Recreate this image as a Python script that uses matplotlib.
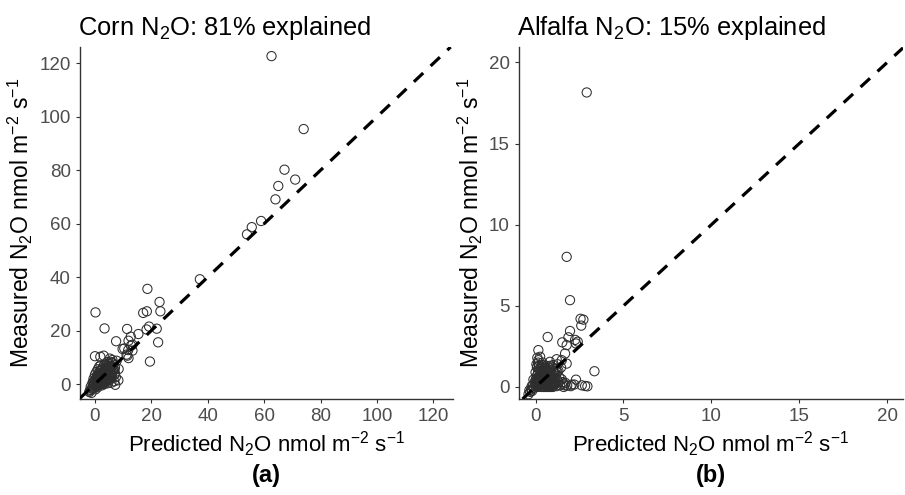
import numpy as np
import matplotlib.pyplot as plt

plt.rcParams['font.family'] = ['Liberation Sans', 'DejaVu Sans']
plt.rcParams['mathtext.default'] = 'regular'

# Corn: predicted vs measured N2O (nmol m-2 s-1)
corn_pred = [62.6, 74.0, 67.2, 71.0, 65.0, 64.0, 58.9, 55.6, 53.9, 37.2,
             0.2, 3.4, 11.4, 18.6, 22.9, 23.2, 17.1, 18.4, 19.2, 18.3,
             21.9, 22.4, 19.5, 15.4, 12.7, 11.9, 13.3, 10.4, 11.8, 11.9,
             11.2, 7.5, 0.0, 3.1, 1.9, 7.2, 8.4, -1.2, 9.8, 7.7,
             7.1, 7.1, 8.3, 12.8, 13.3, 11.5,
             -2.0, -1.5, -1.0, -0.8, -0.5, -0.3, 0.0, 0.2, 0.3, 0.5,
             0.6, 0.8, 1.0, 1.0, 1.2, 1.3, 1.5, 1.6, 1.8, 2.0,
             2.0, 2.2, 2.4, 2.5, 2.7, 2.8, 3.0, 3.0, 3.2, 3.4,
             3.5, 3.6, 3.8, 4.0, 4.0, 4.2, 4.4, 4.5, 4.6, 4.8,
             5.0, 5.0, 5.2, 5.4, 5.5, 5.6, 5.8, 6.0, 6.0, 6.2,
             6.4, 6.6, 6.8, 7.0, 0.0, 0.5, 1.0, 1.5, -0.5, 2.0,
             0.2, 1.0, 2.5, -1.5, 0.8, 1.8, 2.6, 3.3, 4.3, 5.3,
             -0.2, 0.4, 1.4, 2.3, 3.1, 3.9, 4.7, 5.7, 6.5, 0.7,
             -1.8, -1.1, -0.6, 0.1, 0.9, 1.7, 2.1, 2.9, 3.7, 4.1,
             4.9, 5.1, 5.9, 6.3, 6.9, 1.1, 2.4, 3.5, 4.4, 5.6,
             -0.9, 0.6, 1.9, 3.0, 4.2, 5.3, 6.1, 7.4, 2.8, 1.3]
corn_meas = [122.7, 95.4, 80.2, 76.5, 74.1, 69.1, 61.0, 58.7, 56.0, 39.2,
             26.8, 20.8, 20.6, 35.6, 30.7, 27.2, 26.6, 27.2, 21.5, 20.4,
             20.7, 15.6, 8.4, 18.7, 17.7, 16.2, 14.7, 13.3, 12.7, 9.7,
             11.0, 16.0, 10.4, 10.6, 10.2, -0.3, 5.6, -3.3, 13.1, 8.7,
             6.2, 4.0, 1.4, 14.4, 12.5, 10.6,
             -3.0, -2.2, -1.6, -1.0, -0.5, 0.2, -0.8, 0.5, 1.0, -0.3,
             1.5, 0.3, 2.0, 0.8, -0.2, 2.6, 1.2, 0.4, 3.0, 1.8,
             0.0, 3.5, 2.4, 1.0, 4.0, 0.5, 3.0, 1.8, 4.6, 0.0,
             2.5, 5.2, 3.6, 1.2, 6.0, 4.3, 2.0, 6.8, 0.3, 5.0,
             3.0, 7.5, 1.5, 5.8, 8.3, 4.0, 0.5, 6.5, 2.5, 9.0,
             4.8, 7.2, 1.0, 3.5, 3.5, 4.5, 5.5, 6.5, 2.0, 7.0,
             -2.0, -1.2, -0.5, -1.0, 2.8, 4.8, 6.0, 7.2, 8.2, 9.5,
             -1.5, 1.2, 0.5, 1.5, 2.2, 0.8, 1.8, 3.2, 5.5, -0.8,
             -2.5, -1.8, 0.8, 1.8, 3.3, 2.2, 5.2, 4.3, 2.8, 7.0,
             6.2, 2.2, 3.8, 7.8, 5.2, 0.0, 1.3, 0.8, 3.1, 2.0,
             0.4, 2.4, 1.0, 5.8, 5.0, 6.8, 8.0, 2.6, 0.2, 3.9]

# Alfalfa: predicted vs measured N2O
alf_pred = [2.91, 1.77, 1.96, 2.56, 2.72, 2.60, 0.69, 1.96, 1.87, 1.52,
            2.25, 2.30, 2.40, 1.77, 0.16, 0.26, 1.68, 3.35, 1.58, 2.06,
            2.30, 2.63, 2.82, 2.95, 1.30, 1.01, 1.11, 1.49, 0.82, 1.20,
            1.49, 1.77, 0.16, 0.35,
            -0.40, -0.30, -0.25, -0.20, -0.15, -0.10, -0.05, 0.00, 0.02, 0.05,
            0.08, 0.10, 0.12, 0.15, 0.18, 0.20, 0.22, 0.25, 0.28, 0.30,
            0.32, 0.35, 0.38, 0.40, 0.42, 0.45, 0.48, 0.50, 0.52, 0.55,
            0.58, 0.60, 0.62, 0.65, 0.68, 0.70, 0.72, 0.75, 0.78, 0.80,
            0.82, 0.85, 0.88, 0.90, 0.92, 0.95, 0.98, 1.00, 1.05, 1.10,
            1.15, 1.20, 1.25, 1.30, 0.05, 0.10, 0.20, 0.30, 0.40, 0.50,
            0.60, 0.70, 0.80, 0.90, 1.00, 1.10, 1.20, 1.40, 1.60, 1.80,
            0.00, 0.08, 0.15, 0.25, 0.35, 0.55, 0.65, 0.85, 1.35, 1.70,
            2.00, 2.20, 0.45, 0.75, 0.95, 0.02, 0.12, 0.60,
            -0.35, -0.22, -0.12, 0.03, 0.14, 0.24, 0.33, 0.44, 0.53, 0.63,
            0.73, 0.83, 0.93, 1.03, 1.13, 1.23, 0.07, 0.19, 0.29, 0.39,
            0.49, 0.59, 0.69, 0.79, 0.89, 0.99, 1.09, 1.45, 1.55, 1.65,
            0.10, 0.27, 0.43, 0.57, 0.71, 0.87, 1.02, 1.18, 0.36, 0.52]
alf_meas = [18.15, 8.02, 5.35, 4.20, 4.15, 3.78, 3.08, 3.45, 3.06, 2.75,
            2.90, 2.68, 2.79, 2.58, 2.27, 1.86, 2.06, 0.97, 0.20, 0.14,
            0.45, 0.10, 0.06, 0.04, 0.31, 0.73, 0.51, 0.47, 1.55, 1.71,
            1.65, 1.44, 1.65, 1.34,
            -0.45, -0.30, -0.15, -0.25, 0.10, -0.05, 0.30, 0.05, 0.50, 0.15,
            0.70, 0.00, 0.35, 0.90, 0.20, 0.55, 1.10, 0.10, 0.40, 0.75,
            1.20, 0.00, 0.60, 0.30, 0.95, 0.15, 0.80, 0.45, 1.05, 0.25,
            0.65, 1.15, 0.05, 0.85, 0.40, 1.25, 0.20, 0.95, 0.55, 1.30,
            0.10, 0.70, 1.05, 0.35, 1.20, 0.00, 0.60, 1.35, 0.90, 0.25,
            1.10, 0.50, 1.40, 1.00, 1.40, 1.80, 1.30, 1.00, 1.50, 0.00,
            0.05, 0.00, 0.10, 0.05, 0.02, 0.15, 0.05, 0.10, 0.00, 0.08,
            0.90, 1.20, 1.50, 0.65, 0.85, 1.25, 0.30, 0.00, 0.60, 0.25,
            0.05, 0.15, 0.00, 0.00, 0.20, 0.20, 0.00, 0.00,
            -0.20, 0.05, 0.45, 0.25, 0.60, 0.35, 0.85, 0.55, 0.20, 1.00,
            0.45, 0.15, 0.75, 0.30, 0.70, 0.95, 0.40, 0.05, 0.70, 0.50,
            0.10, 0.90, 0.30, 1.15, 0.20, 0.40, 0.25, 1.20, 0.30, 0.10,
            1.25, 0.95, 1.35, 0.45, 0.05, 0.30, 0.20, 0.80, 0.15, 0.65]

fig = plt.figure(figsize=(9.05, 4.95), dpi=100)
ax1 = fig.add_axes([0.0884, 0.194, 0.412, 0.711])
ax2 = fig.add_axes([0.5735, 0.194, 0.4243, 0.711])

panels = [
    (ax1, corn_pred, corn_meas, (-5.3, 126.9), (-5.6, 126.1), [0, 20, 40, 60, 80, 100, 120],
     'Corn N$_2$O: 81% explained', '(a)'),
    (ax2, alf_pred, alf_meas, (-0.94, 20.9), (-0.74, 20.95), [0, 5, 10, 15, 20],
     'Alfalfa N$_2$O: 15% explained', '(b)'),
]

for ax, xp, ym, xl, yl, ticks, title, tag in panels:
    ax.scatter(xp, ym, s=44, facecolors='none', edgecolors='#2e2e2e', linewidths=0.75, zorder=2)
    ax.axline((0, 0), slope=1, color='black', lw=2.3, dashes=(4, 3.2), zorder=3)
    ax.set_xlim(*xl)
    ax.set_ylim(*yl)
    ax.set_xticks(ticks)
    ax.set_yticks(ticks)
    for s in ['top', 'right']:
        ax.spines[s].set_visible(False)
    for s in ['left', 'bottom']:
        ax.spines[s].set_color('#333333')
        ax.spines[s].set_linewidth(1.0)
    ax.tick_params(colors='#333333', labelcolor='#4d4d4d', labelsize=13.5, length=3, width=0.8)
    ax.set_title(title, loc='left', fontsize=18.4, pad=9, x=-0.005)
    ax.set_xlabel('Predicted N$_2$O nmol m$^{-2}$ s$^{-1}$', fontsize=16, labelpad=3)
    ax.set_ylabel('Measured N$_2$O nmol m$^{-2}$ s$^{-1}$', fontsize=16.5, labelpad=3)
    ax.text(0.5, -0.218, tag, transform=ax.transAxes, ha='center', va='center',
            fontsize=17, fontweight='bold')

fig.savefig('out.png', dpi=100)
